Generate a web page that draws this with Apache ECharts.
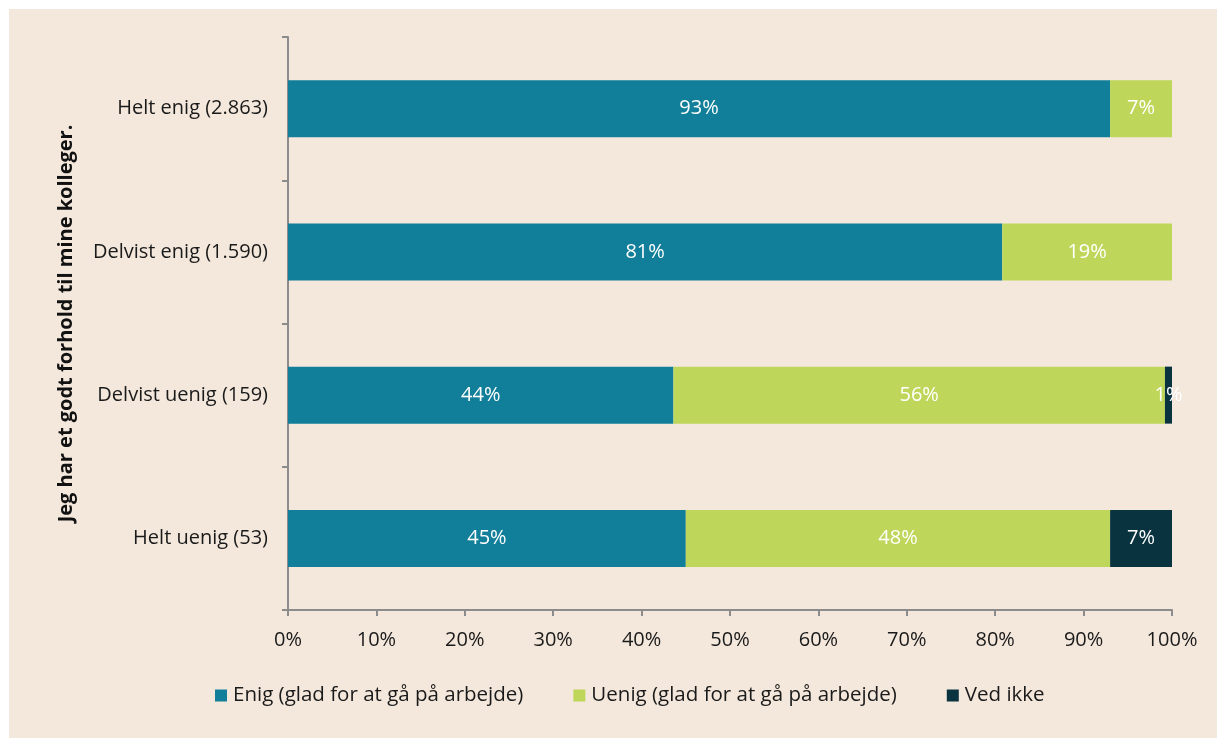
<!DOCTYPE html>
<html>
<head>
<meta charset="utf-8">
<script src="https://cdn.jsdelivr.net/npm/echarts@6/dist/echarts.min.js"></script>
<style>
html, body {
  margin: 0;
  padding: 0;
  background: #ffffff;
}
#chart {
  position: absolute;
  left: 9px;
  top: 9px;
  width: 1208px;
  height: 729px;
  background: #f4e8dc;
}
</style>
</head>
<body>
<div id="chart"></div>
<script>
// data (percent of each answer group)
const categories = ['Helt enig (2.863)', 'Delvist enig (1.590)', 'Delvist uenig (159)', 'Helt uenig (53)']
const seriesNames = ['Enig (glad for at gå på arbejde)', 'Uenig (glad for at gå på arbejde)', 'Ved ikke']
const enig = [93.0, 80.8, 43.6, 45.0]
const uenig = [7.0, 19.2, 55.6, 48.0]
const vedIkke = [0, 0, 0.8, 7.0]
const xTicks = [0, 10, 20, 30, 40, 50, 60, 70, 80, 90, 100]
const axisTitle = 'Jeg har et godt forhold til mine kolleger.'

const colors = ['#117e9a', '#bed75a', '#08333f']
const font = '"Open Sans", "Noto Sans", sans-serif'

const chart = echarts.init(document.getElementById('chart'))

function makeSeries(name, data, color) {
  return {
    name: name,
    type: 'bar',
    stack: 'total',
    barWidth: 57,
    data: data,
    itemStyle: { color: color },
    label: {
      show: true,
      position: 'inside',
      color: '#ffffff',
      fontFamily: font,
      fontSize: 20,
      padding: [3, 0, 0, 0],
      formatter: p => (p.value > 0 ? Math.round(p.value) + '%' : '')
    }
  }
}

const option = {
  animation: false,
  textStyle: { fontFamily: font },
  grid: {
    left: 279,
    right: 45,
    top: 28,
    bottom: 128
  },
  legend: {
    bottom: 27,
    left: 201,
    itemWidth: 12,
    itemHeight: 12,
    itemGap: 50,
    icon: 'rect',
    textStyle: { fontFamily: font, fontSize: 20.5, color: '#1a1a1a', padding: [0, 0, 0, 1] },
    data: seriesNames
  },
  xAxis: {
    type: 'value',
    min: 0,
    max: 100,
    interval: 10,
    axisLine: { show: true, lineStyle: { color: '#8c8c8c', width: 2 } },
    axisTick: { show: true, length: 6, lineStyle: { color: '#8c8c8c', width: 2 } },
    splitLine: { show: false },
    axisLabel: {
      margin: 20,
      fontFamily: font,
      fontSize: 20,
      color: '#1a1a1a',
      formatter: v => (xTicks.indexOf(v) >= 0 ? v + '%' : '')
    }
  },
  yAxis: {
    type: 'category',
    inverse: true,
    data: categories,
    name: axisTitle,
    nameLocation: 'middle',
    nameRotate: 90,
    nameGap: 212,
    nameTextStyle: { fontFamily: font, fontSize: 20, fontWeight: 'bold', color: '#111' },
    axisLine: { show: true, lineStyle: { color: '#8c8c8c', width: 2 } },
    axisTick: { show: true, length: 6, lineStyle: { color: '#8c8c8c', width: 2 } },
    axisLabel: {
      margin: 20,
      fontFamily: font,
      fontSize: 20,
      color: '#1a1a1a'
    }
  },
  series: [
    makeSeries(seriesNames[0], enig, colors[0]),
    makeSeries(seriesNames[1], uenig, colors[1]),
    makeSeries(seriesNames[2], vedIkke, colors[2])
  ]
}

chart.setOption(option)
</script>
</body>
</html>
